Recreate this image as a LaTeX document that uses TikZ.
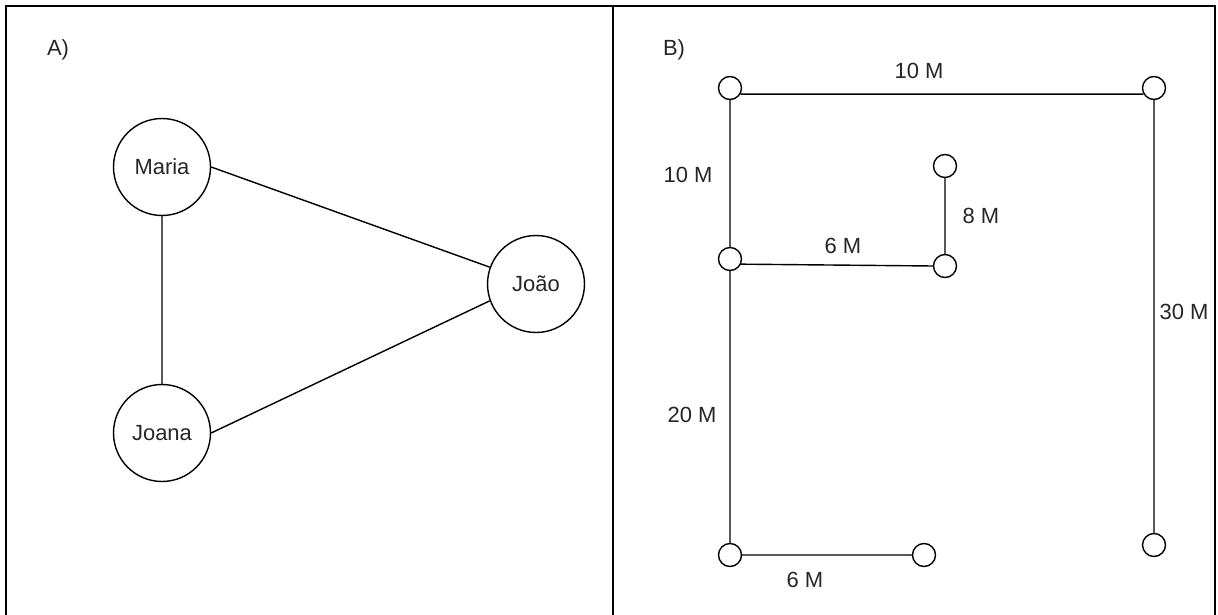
\documentclass[tikz,border=0pt]{standalone}
\usepackage{fontspec}
\setmainfont{Liberation Sans}
\tikzset{
  every node/.style={font=\fontsize{12.5}{15}\selectfont, text=black!85},
  person/.style={circle, draw, line width=0.8pt, minimum size=1.94cm, inner sep=0pt},
  junction/.style={circle, draw, line width=0.8pt, minimum size=0.46cm, inner sep=0pt},
  wire/.style={line width=0.8pt}
}
\newcommand{\personnode}[3]{\node[person] at (#1) (#2) {#3}}
\newcommand{\junctionnode}[2]{\node[junction] at (#1) (#2) {}}

\begin{document}
\begin{tikzpicture}[x=0.02cm, y=-0.02cm]
			\useasboundingbox (0,0) rectangle (1218,615);
			% panel frames (open at the bottom)
			\draw[wire] (6,615) -- (6,6) -- (1215,6) -- (1215,615);
			\draw[wire] (613,6) -- (613,615);
			\node at (58,50) (tagA) {A)};
			\node at (674,50) (tagB) {B)};

			% A) people
			\personnode{162,167}{maria}{Maria};
			\personnode{162,433}{joana}{Joana};
			\personnode{536,284}{joao}{João};
			\draw[wire]
			(maria.east) -- (joao.160)
			(maria) -- (joana)
			(joana.east) -- (joao.200);

			% B) cable runs
			\junctionnode{730,88}{tl};
			\junctionnode{1154,88}{tr};
			\junctionnode{730,259}{ml};
			\junctionnode{945,266}{mr};
			\junctionnode{945,166}{mt};
			\junctionnode{730,555}{bl};
			\junctionnode{924,555}{bc};
			\junctionnode{1154,545}{br};
			\draw[wire]
			(tl.-30) -- (tr.210)
			(tl)  -- (ml)
			(tr)  -- (br)
			(ml.-25) -- (mr.west)
			(mr)  -- (mt)
			(ml)  -- (bl)
			(bl)  -- (bc);
			\node at (919,71)  (l1) {10 M};
			\node at (688,175) (l2) {10 M};
			\node at (843,246) (l3) {6 M};
			\node at (981,216) (l4) {8 M};
			\node at (1184,312) (l5) {30 M};
			\node at (692,415) (l6) {20 M};
			\node at (805,580) (l7) {6 M};
		\end{tikzpicture}
\end{document}
